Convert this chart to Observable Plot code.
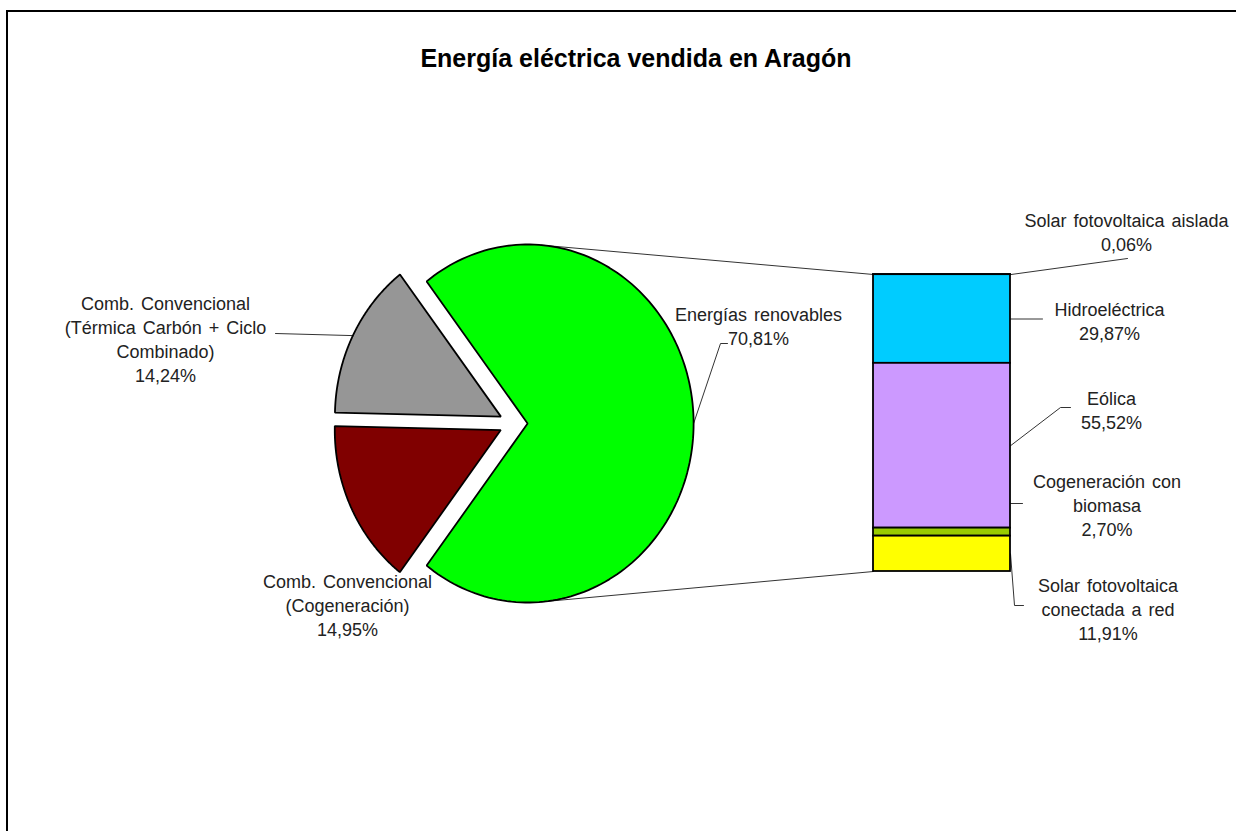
<!DOCTYPE html>
<html><head><meta charset="utf-8">
<script src="https://cdn.jsdelivr.net/npm/d3@7"></script>
<script src="https://cdn.jsdelivr.net/npm/@observablehq/plot@0.6"></script>
<style>
html,body{margin:0;padding:0;background:#fff;width:1236px;height:831px;overflow:hidden;}
#frame{position:absolute;left:6px;top:10px;width:1240px;height:830px;border-left:2px solid #000;border-top:2px solid #000;}
#title{position:absolute;left:18px;top:42px;width:1236px;text-align:center;font:bold 25px "Liberation Sans",Arial,sans-serif;line-height:32px;color:#000;}
#chart{position:absolute;left:0;top:80px;}
</style></head><body>
<div id="frame"></div>
<div id="title">Energía eléctrica vendida en Aragón</div>
<div id="chart"></div>
<script>
// ---- data ----
const pieCategories = ["Comb. Convencional\n(Térmica Carbón + Ciclo\nCombinado)", "Comb. Convencional\n(Cogeneración)", "Energías renovables"];
const pieValues = [14.24, 14.95, 70.81];
const barCategories = ["Solar fotovoltaica aislada", "Hidroeléctrica", "Eólica", "Cogeneración con\nbiomasa", "Solar fotovoltaica\nconectada a red"];
const barValues = [0.06, 29.87, 55.52, 2.70, 11.91];

// ---- styles / layout ----
const pieColors = ["#969696", "#800000", "#00FF00"];
const barColors = ["#FF6600", "#00CCFF", "#CC99FF", "#99CC00", "#FFFF00"];
const W = 1236, H = 751, TOP = 80;
const pieLayout = {cx: 513, cy: 423, rx: 166, ry: 179, explode: 0.085};
const barLayout = {x1: 873, x2: 1010, top: 274, bottom: 571};
const pieLabelPos = [{x: 165, y: 337.5}, {x: 347, y: 604}, {x: 758, y: 325}];
const barLabelPos = [{x: 1126, y: 230.5}, {x: 1109, y: 320}, {x: 1111, y: 408.5}, {x: 1106.5, y: 503.5}, {x: 1107.5, y: 607.5}];
// leader paths: elbow/end points after the anchor point
const pieLeaderPts = [[[275, 333]], null, [[720, 343], [727, 343]]];
const barLeaderPts = [[[1127, 258]], [[1042, "seg"]], [[1060, 407], [1070, 407]], [[1022, "start"]], [[1014, 605], [1023, 605]]];
const barLeaderStartY = [null, null, null, 503, null];

const fmt = v => v.toFixed(2).replace(".", ",") + "%";

// ---- pie geometry from values ----
const pieTotal = d3.sum(pieValues);
const deg = v => v / pieTotal * 360;
const rad = a => a * Math.PI / 180;
const gSpan = deg(pieValues[2]);
const spans = [];
let s = gSpan / 2;
spans[0] = [s, s + deg(pieValues[0])]; s += deg(pieValues[0]);
spans[1] = [s, s + deg(pieValues[1])];
spans[2] = [-gSpan / 2, gSpan / 2];
const {cx, cy, rx, ry, explode} = pieLayout;
const slices = spans.map(([a0, a1], i) => {
  const m = rad((a0 + a1) / 2);
  const c = {x: cx + explode * rx * Math.cos(m), y: cy - explode * ry * Math.sin(m)};
  const pts = [{x: c.x, y: c.y}];
  const n = 160;
  for (let k = 0; k <= n; k++) {
    const a = rad(a0 + (a1 - a0) * k / n);
    pts.push({x: c.x + rx * Math.cos(a), y: c.y - ry * Math.sin(a)});
  }
  const mid = {x: c.x + rx * Math.cos(m), y: c.y - ry * Math.sin(m)};
  return {i, c, pts, mid};
});

// ---- bar geometry from values ----
const barTotal = d3.sum(barValues);
const bH = barLayout.bottom - barLayout.top;
let cum = 0;
const barRects = barValues.map((v, i) => {
  const y1 = barLayout.top + cum / barTotal * bH; cum += v;
  const y2 = barLayout.top + cum / barTotal * bH;
  return {i, x1: barLayout.x1, x2: barLayout.x2, y1, y2, fill: barColors[i], mid: (y1 + y2) / 2};
});

// ---- connector lines: tangents from bar corners to the "other" slice ----
const g = slices[2].c;
function tangent(X, Y, sign) {
  const px = (X - g.x) / rx, py = (g.y - Y) / ry;
  const r = Math.hypot(px, py), phi = Math.atan2(py, px);
  const t = phi + sign * Math.acos(1 / r);
  return {x: g.x + rx * Math.cos(t), y: g.y - ry * Math.sin(t)};
}
const tTop = tangent(barLayout.x1, barLayout.top, 1);
const tBot = tangent(barLayout.x1, barLayout.bottom, -1);
const connectors = [
  {id: "top", x: tTop.x, y: tTop.y}, {id: "top", x: barLayout.x1, y: barLayout.top},
  {id: "bot", x: tBot.x, y: tBot.y}, {id: "bot", x: barLayout.x1, y: barLayout.bottom}
];

// ---- leaders ----
const leaders = [];
pieLeaderPts.forEach((pts, i) => {
  if (!pts) return;
  leaders.push({id: "p" + i, x: slices[i].mid.x, y: slices[i].mid.y});
  pts.forEach(([x, y]) => leaders.push({id: "p" + i, x, y}));
});
barLeaderPts.forEach((pts, i) => {
  const sy = barLeaderStartY[i] ?? barRects[i].mid;
  leaders.push({id: "b" + i, x: barLayout.x2, y: sy});
  pts.forEach(([x, y]) => leaders.push({id: "b" + i, x, y: y === "seg" ? barRects[i].mid : y === "start" ? sy : y}));
});

const pieText = pieCategories.map((c, i) => ({x: pieLabelPos[i].x, y: pieLabelPos[i].y, text: c + "\n" + fmt(pieValues[i])}));
const barText = barCategories.map((c, i) => ({x: barLabelPos[i].x, y: barLabelPos[i].y, text: c + "\n" + fmt(barValues[i])}));

const chart = Plot.plot({
  width: W, height: H,
  margin: 0,
  x: {type: "linear", domain: [0, W], range: [0, W], axis: null},
  y: {type: "linear", domain: [TOP, TOP + H], range: [0, H], axis: null},
  style: {fontFamily: '"Liberation Sans", Arial, sans-serif', background: "transparent", overflow: "visible", wordSpacing: "2px"},
  marks: [
    Plot.line(connectors, {x: "x", y: "y", z: "id", stroke: "#333", strokeWidth: 1}),
    Plot.line(leaders, {x: "x", y: "y", z: "id", stroke: "#333", strokeWidth: 1, strokeLinejoin: "miter"}),
    ...slices.map(sl => Plot.line(sl.pts, {x: "x", y: "y", curve: "linear-closed", fill: pieColors[sl.i], stroke: "#000", strokeWidth: 1.8, strokeLinejoin: "miter"})),
    Plot.rect(barRects, {x1: "x1", x2: "x2", y1: "y1", y2: "y2", fill: "fill", stroke: "#000", strokeWidth: 1.8}),
    Plot.text(pieText, {x: "x", y: "y", text: "text", fontSize: 18, lineHeight: 1.33, fill: "#222", textAnchor: "middle"}),
    Plot.text(barText, {x: "x", y: "y", text: "text", fontSize: 18, lineHeight: 1.33, fill: "#222", textAnchor: "middle"})
  ]
});
document.getElementById("chart").appendChild(chart);
</script>
</body></html>
